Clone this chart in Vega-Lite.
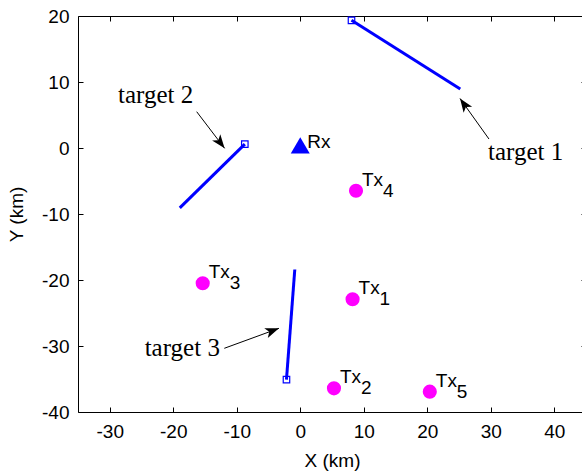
{
  "$schema": "https://vega.github.io/schema/vega-lite/v6.json",
  "width": 508,
  "height": 396,
  "autosize": {"type": "none"},
  "padding": {"left": 78, "top": 16, "right": -4, "bottom": 59},
  "background": "white",
  "config": {
    "view": {"stroke": null},
    "font": "Liberation Sans",
    "axis": {
      "grid": false,
      "domainColor": "black",
      "domainWidth": 1,
      "tickColor": "black",
      "tickWidth": 1,
      "tickSize": -5,
      "labelColor": "black",
      "labelFont": "Liberation Sans",
      "labelFontSize": 19,
      "labelExpr": "'' + datum.value",
      "titleFont": "Liberation Sans",
      "titleFontSize": 19,
      "titleFontWeight": "normal",
      "titleColor": "black"
    }
  },
  "datasets": {
    "targets": [
      {"target": "target 1", "x": 8.07, "y": 19.35, "start": 1},
      {"target": "target 1", "x": 25.2, "y": 8.93, "start": 0},
      {"target": "target 2", "x": -8.73, "y": 0.59, "start": 1},
      {"target": "target 2", "x": -18.97, "y": -9.07, "start": 0},
      {"target": "target 3", "x": -2.17, "y": -35.09, "start": 1},
      {"target": "target 3", "x": -0.86, "y": -18.41, "start": 0}
    ],
    "tx": [
      {"name": "Tx", "sub": "1", "x": 8.24, "y": -22.92},
      {"name": "Tx", "sub": "2", "x": 5.31, "y": -36.41},
      {"name": "Tx", "sub": "3", "x": -15.36, "y": -20.5},
      {"name": "Tx", "sub": "4", "x": 8.78, "y": -6.47},
      {"name": "Tx", "sub": "5", "x": 20.4, "y": -36.92}
    ],
    "rx": [{"name": "Rx", "x": 0, "y": 0.4}],
    "arrows": [
      {"target": "target 1", "x": 29.72, "y": 1.36, "x2": 25.16, "y2": 7.5},
      {"target": "target 2", "x": -16.31, "y": 5.5, "x2": -11.91, "y2": -0.05},
      {"target": "target 3", "x": -11.96, "y": -30.35, "x2": -3.35, "y2": -27.32}
    ],
    "labels": [
      {"label": "target 1", "x": 29.57, "y": -1.82},
      {"label": "target 2", "x": -28.7, "y": 6.77},
      {"label": "target 3", "x": -24.5, "y": -31.47}
    ]
  },
  "resolve": {"axis": {"x": "independent", "y": "independent"}},
  "layer": [
    {
      "data": {"name": "targets"},
      "mark": {"type": "line", "color": "#0000ff", "strokeWidth": 3},
      "encoding": {
        "x": {"field": "x", "type": "quantitative", "scale": {"domain": [-35, 45], "nice": false, "zero": false},
          "axis": {"orient": "bottom", "values": [-30, -20, -10, 0, 10, 20, 30, 40], "title": "X (km)", "labelPadding": 15, "titleBaseline": "alphabetic", "titleY": 54.6}},
        "y": {"field": "y", "type": "quantitative", "scale": {"domain": [-40, 20], "nice": false, "zero": false},
          "axis": {"orient": "left", "values": [-40, -30, -20, -10, 0, 10, 20], "title": "Y (km)", "labelPadding": 14, "titleBaseline": "alphabetic", "titleX": -56, "titleY": 198}},
        "detail": {"field": "target", "type": "nominal"}
      }
    },
    {
      "data": {"name": "targets"},
      "transform": [{"filter": "datum.start == 1"}],
      "mark": {"type": "point", "shape": "square", "filled": false, "color": "#0000ff", "size": 42, "strokeWidth": 1.2, "opacity": 1},
      "encoding": {
        "x": {"field": "x", "type": "quantitative", "axis": {"orient": "top", "values": [-30, -20, -10, 0, 10, 20, 30, 40], "labels": false, "title": null}},
        "y": {"field": "y", "type": "quantitative", "axis": {"orient": "right", "values": [-40, -30, -20, -10, 0, 10, 20], "labels": false, "title": null}}
      }
    },
    {
      "data": {"name": "rx"},
      "mark": {"type": "point", "shape": "triangle-up", "filled": true, "color": "#0000ff", "size": 360, "opacity": 1},
      "encoding": {
        "x": {"field": "x", "type": "quantitative", "axis": null},
        "y": {"field": "y", "type": "quantitative", "axis": null}
      }
    },
    {
      "data": {"name": "rx"},
      "mark": {"type": "text", "align": "left", "baseline": "alphabetic", "dx": 7, "dy": 3, "fontSize": 19, "color": "black"},
      "encoding": {
        "x": {"field": "x", "type": "quantitative", "axis": null},
        "y": {"field": "y", "type": "quantitative", "axis": null},
        "text": {"field": "name"}
      }
    },
    {
      "data": {"name": "tx"},
      "mark": {"type": "point", "shape": "circle", "filled": true, "color": "#ff00ff", "size": 200, "opacity": 1},
      "encoding": {
        "x": {"field": "x", "type": "quantitative", "axis": null},
        "y": {"field": "y", "type": "quantitative", "axis": null}
      }
    },
    {
      "data": {"name": "tx"},
      "mark": {"type": "text", "align": "left", "baseline": "alphabetic", "dx": 6, "dy": -5, "fontSize": 19, "color": "black"},
      "encoding": {
        "x": {"field": "x", "type": "quantitative", "axis": null},
        "y": {"field": "y", "type": "quantitative", "axis": null},
        "text": {"field": "name"}
      }
    },
    {
      "data": {"name": "tx"},
      "mark": {"type": "text", "align": "left", "baseline": "alphabetic", "dx": 27, "dy": 6, "fontSize": 19, "color": "black"},
      "encoding": {
        "x": {"field": "x", "type": "quantitative", "axis": null},
        "y": {"field": "y", "type": "quantitative", "axis": null},
        "text": {"field": "sub"}
      }
    },
    {
      "data": {"name": "arrows"},
      "mark": {"type": "rule", "color": "black", "strokeWidth": 1},
      "encoding": {
        "x": {"field": "x", "type": "quantitative", "axis": null},
        "y": {"field": "y", "type": "quantitative", "axis": null},
        "x2": {"field": "x2"},
        "y2": {"field": "y2"}
      }
    },
    {
      "data": {"name": "arrows"},
      "transform": [{"filter": "datum.target == 'target 1'"}],
      "mark": {"type": "point", "shape": "M0,0L-0.75,2L0,1.5L0.75,2Z", "filled": true, "color": "black", "size": 190, "angle": -34.8, "opacity": 1},
      "encoding": {
        "x": {"field": "x2", "type": "quantitative", "axis": null},
        "y": {"field": "y2", "type": "quantitative", "axis": null}
      }
    },
    {
      "data": {"name": "arrows"},
      "transform": [{"filter": "datum.target == 'target 2'"}],
      "mark": {"type": "point", "shape": "M0,0L-0.75,2L0,1.5L0.75,2Z", "filled": true, "color": "black", "size": 190, "angle": 142.3, "opacity": 1},
      "encoding": {
        "x": {"field": "x2", "type": "quantitative", "axis": null},
        "y": {"field": "y2", "type": "quantitative", "axis": null}
      }
    },
    {
      "data": {"name": "arrows"},
      "transform": [{"filter": "datum.target == 'target 3'"}],
      "mark": {"type": "point", "shape": "M0,0L-0.75,2L0,1.5L0.75,2Z", "filled": true, "color": "black", "size": 190, "angle": 69.9, "opacity": 1},
      "encoding": {
        "x": {"field": "x2", "type": "quantitative", "axis": null},
        "y": {"field": "y2", "type": "quantitative", "axis": null}
      }
    },
    {
      "data": {"name": "labels"},
      "mark": {"type": "text", "align": "left", "baseline": "alphabetic", "font": "Liberation Serif", "fontSize": 25, "color": "black"},
      "encoding": {
        "x": {"field": "x", "type": "quantitative", "axis": null},
        "y": {"field": "y", "type": "quantitative", "axis": null},
        "text": {"field": "label"}
      }
    }
  ]
}
